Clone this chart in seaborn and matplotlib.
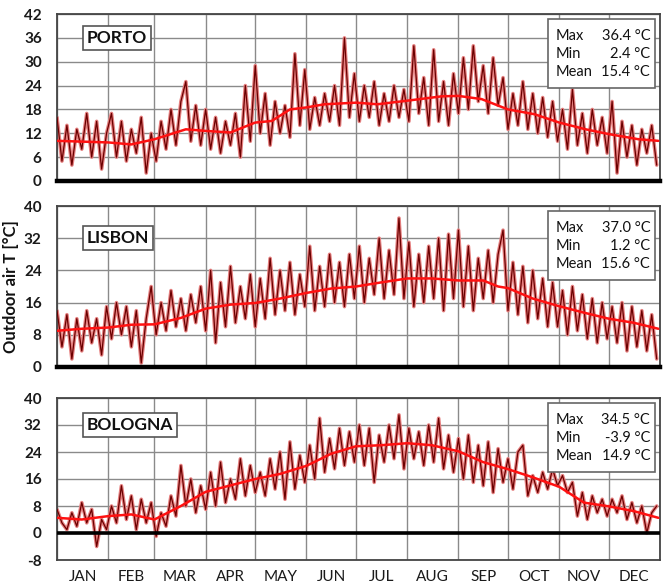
import numpy as np
import pandas as pd
import matplotlib
matplotlib.use("Agg")
import matplotlib.pyplot as plt
import seaborn as sns
from matplotlib.patches import Rectangle

# ---- data (values every 3 days, deg C) ----
months = ["JAN", "FEB", "MAR", "APR", "MAY", "JUN", "JUL", "AUG", "SEP", "OCT", "NOV", "DEC"]
month_edges = [0, 31, 59, 90, 120, 151, 181, 212, 243, 273, 304, 334, 365]

porto_temp = [16, 5, 14, 4, 13, 8, 17, 6, 15, 3, 12,
              17, 6, 15, 5, 13, 7, 16, 2, 12,
              5, 15, 8, 18, 9, 20, 25, 10, 19, 9,
              18, 8, 16, 7, 15, 9, 17, 6, 24, 10,
              29, 12, 22, 9, 20, 12, 19, 11, 32, 14, 28,
              13, 21, 14, 22, 15, 24, 14, 36, 16, 27,
              15, 24, 16, 25, 14, 22, 15, 24, 16, 23,
              15, 34, 17, 26, 14, 33, 15, 25, 14, 27,
              17, 31, 18, 34, 20, 29, 17, 31, 19, 26,
              13, 22, 14, 25, 13, 22, 12, 21, 11, 20,
              10, 18, 8, 23, 9, 17, 7, 18, 9, 16,
              7, 20, 2, 15, 6, 14, 4, 13, 7, 14, 4]

lisbon_temp = [14, 5, 13, 2, 12, 4, 14, 6, 12, 3, 15,
               7, 16, 8, 15, 5, 14, 1, 12, 20,
               8, 16, 9, 19, 10, 17, 9, 18, 11, 20,
               9, 24, 6, 21, 10, 25, 11, 20, 12, 23,
               10, 22, 12, 27, 13, 24, 14, 26, 13, 23, 15,
               30, 14, 25, 15, 28, 16, 26, 15, 28, 17,
               30, 16, 27, 18, 32, 17, 29, 18, 37, 17,
               31, 15, 28, 16, 30, 17, 32, 14, 33, 17,
               34, 15, 30, 14, 27, 17, 29, 16, 28, 34,
               14, 26, 13, 25, 11, 24, 12, 22, 10, 21,
               10, 19, 8, 20, 9, 18, 7, 17, 6, 16,
               7, 15, 6, 16, 4, 15, 5, 14, 4, 13, 2]

bologna_temp = [7, 3, 1, 6, 2, 9, 3, 7, -4, 4, 1,
                8, 3, 14, 4, 11, 1, 10, 3, 9,
                -1, 6, 2, 11, 5, 20, 8, 16, 6, 14,
                7, 18, 8, 21, 9, 16, 10, 22, 11, 20,
                12, 18, 11, 22, 13, 24, 10, 27, 13, 23, 15,
                26, 16, 34, 18, 28, 19, 31, 20, 30, 21,
                32, 20, 31, 15, 29, 21, 32, 22, 35, 19,
                31, 22, 30, 20, 32, 21, 34, 19, 29, 18,
                28, 16, 29, 15, 26, 14, 27, 12, 25, 15,
                22, 13, 24, 26, 11, 17, 12, 18, 13, 19,
                14, 17, 12, 15, 5, 12, 4, 11, 6, 10,
                5, 10, 6, 11, 4, 9, 3, 8, 0, 6, 8]

# smoothed (running mean) curves
porto_sm_days = [0, 31, 45, 59, 78, 90, 105, 120, 130, 141, 151, 162, 181,
                 194, 212, 233, 243, 257, 273, 289, 304, 320, 334, 352, 364]
porto_sm = [10.1, 9.7, 9.2, 10.5, 13.0, 12.6, 12.2, 14.7, 15.1, 18.0, 18.5, 19.3, 19.7,
            19.3, 20.2, 21.3, 21.4, 20.6, 18.0, 16.8, 14.7, 13.0, 11.8, 10.5, 10.1]

lisbon_sm_days = [0, 15, 31, 45, 59, 75, 90, 105, 120, 135, 151, 166, 181,
                  196, 212, 227, 243, 258, 267, 273, 288, 304, 319, 334, 349, 364]
lisbon_sm = [9.0, 9.5, 9.8, 10.5, 10.6, 12.2, 14.5, 15.5, 15.9, 17.0, 18.4, 19.5, 20.0,
             21.0, 22.0, 22.0, 21.5, 21.5, 20.0, 19.6, 17.0, 15.1, 13.5, 12.0, 11.0, 9.5]

bologna_sm_days = [0, 15, 31, 45, 59, 75, 90, 105, 120, 135, 151, 166, 181,
                   196, 212, 227, 243, 258, 273, 288, 304, 319, 334, 349, 364]
bologna_sm = [4.5, 4.0, 5.0, 5.5, 4.0, 8.0, 12.2, 14.1, 16.0, 17.5, 19.9, 23.5, 25.7,
              26.0, 26.6, 26.0, 24.2, 21.0, 18.9, 16.5, 13.7, 9.0, 7.9, 6.5, 4.5]

stats_labels = ["Max", "Min", "Mean"]
porto_stats = ["36.4 °C", "2.4 °C", "15.4 °C"]
lisbon_stats = ["37.0 °C", "1.2 °C", "15.6 °C"]
bologna_stats = ["34.5 °C", "-3.9 °C", "14.9 °C"]

days = np.arange(0, 364, 3)

sns.set_style("white")
plt.rcParams['font.family'] = ['Lato', 'DejaVu Sans']

W, H = 669, 587
fig = plt.figure(figsize=(W / 100, H / 100), dpi=100)

# (name, trace, smooth x, smooth y, ylim, yticks, stats, top px, bottom px, label y value)
panels = [
    ("PORTO", porto_temp, porto_sm_days, porto_sm, (0, 42), range(0, 43, 6), porto_stats, 14, 181, 36),
    ("LISBON", lisbon_temp, lisbon_sm_days, lisbon_sm, (0, 40), range(0, 41, 8), lisbon_stats, 206, 367, 32),
    ("BOLOGNA", bologna_temp, bologna_sm_days, bologna_sm, (-8, 40), range(-8, 41, 8), bologna_stats, 398, 560, 32),
]

left, right = 57, 660
for name, trace, sd, sv, ylim, yticks, stats, top, bot, lab_y in panels:
    ax = fig.add_axes([left / W, 1 - bot / H, (right - left) / W, (bot - top) / H])
    hpx = bot - top
    df = pd.DataFrame({"day": days, "T": trace})
    sm = pd.DataFrame({"day": sd, "T": sv})
    sns.lineplot(data=df, x="day", y="T", ax=ax, color="#e57f7f", lw=2.6,
                 estimator=None, sort=False, zorder=2)
    sns.lineplot(data=df, x="day", y="T", ax=ax, color="#6b0000", lw=0.9,
                 estimator=None, sort=False, zorder=3)
    sns.lineplot(data=sm, x="day", y="T", ax=ax, color="#ff1111", lw=1.8,
                 estimator=None, sort=False, zorder=4)

    ax.set_xlim(0, 365)
    ax.set_ylim(*ylim)
    ax.set_xticks(month_edges)
    ax.set_xticklabels([])
    ax.set_yticks(list(yticks))
    ax.set_yticklabels([str(v) for v in yticks], fontweight="bold", fontsize=11, color="#1a1a1a")
    ax.set_xlabel("")
    ax.set_ylabel("")
    ax.grid(True, color="#8a8a8a", lw=1.0)
    ax.set_axisbelow(True)
    ax.tick_params(axis="both", which="major", length=0, pad=11)
    for s in ax.spines.values():
        s.set_color("#444444")
        s.set_linewidth(1.3)
    if ylim[0] == 0:
        ax.spines["bottom"].set_color("black")
        ax.spines["bottom"].set_linewidth(3.2)
    else:
        ax.axhline(0, color="black", lw=2.6, zorder=5)
        mids = [(a + b) / 2 for a, b in zip(month_edges[:-1], month_edges[1:])]
        ax.set_xticks(mids, minor=True)
        ax.set_xticklabels(months, minor=True, fontsize=11, color="#1a1a1a")
        ax.tick_params(axis="x", which="minor", length=0, pad=7)

    # city label box
    ax.text(18, lab_y, name, fontsize=12.5, fontweight="bold", ha="left", va="center",
            zorder=6, color="#111111",
            bbox=dict(boxstyle="square,pad=0.22", fc="white", ec="#555555", lw=1.2))

    # stats box
    bx0 = (548 - left) / (right - left)
    bx1 = (655 - left) / (right - left)
    btop = 1 - 5 / hpx
    bh = 69 / hpx
    ax.add_patch(Rectangle((bx0, btop - bh), bx1 - bx0, bh, transform=ax.transAxes,
                           fc="white", ec="#666666", lw=1.2, zorder=6))
    for j, (lab, val) in enumerate(zip(stats_labels, stats)):
        yy = btop - (17 + 18 * j) / hpx
        ax.text(bx0 + 0.012, yy, lab, transform=ax.transAxes, fontsize=10.5,
                ha="left", va="center", zorder=7, color="#111111")
        ax.text(bx1 - 0.008, yy, val, transform=ax.transAxes, fontsize=10.5,
                ha="right", va="center", zorder=7, color="#111111")

fig.text(0.017, 1 - 287 / H, "Outdoor air T [°C]", rotation=90, fontsize=12,
         fontweight="bold", ha="center", va="center", color="#111111")

fig.savefig("out.png", dpi=100)
